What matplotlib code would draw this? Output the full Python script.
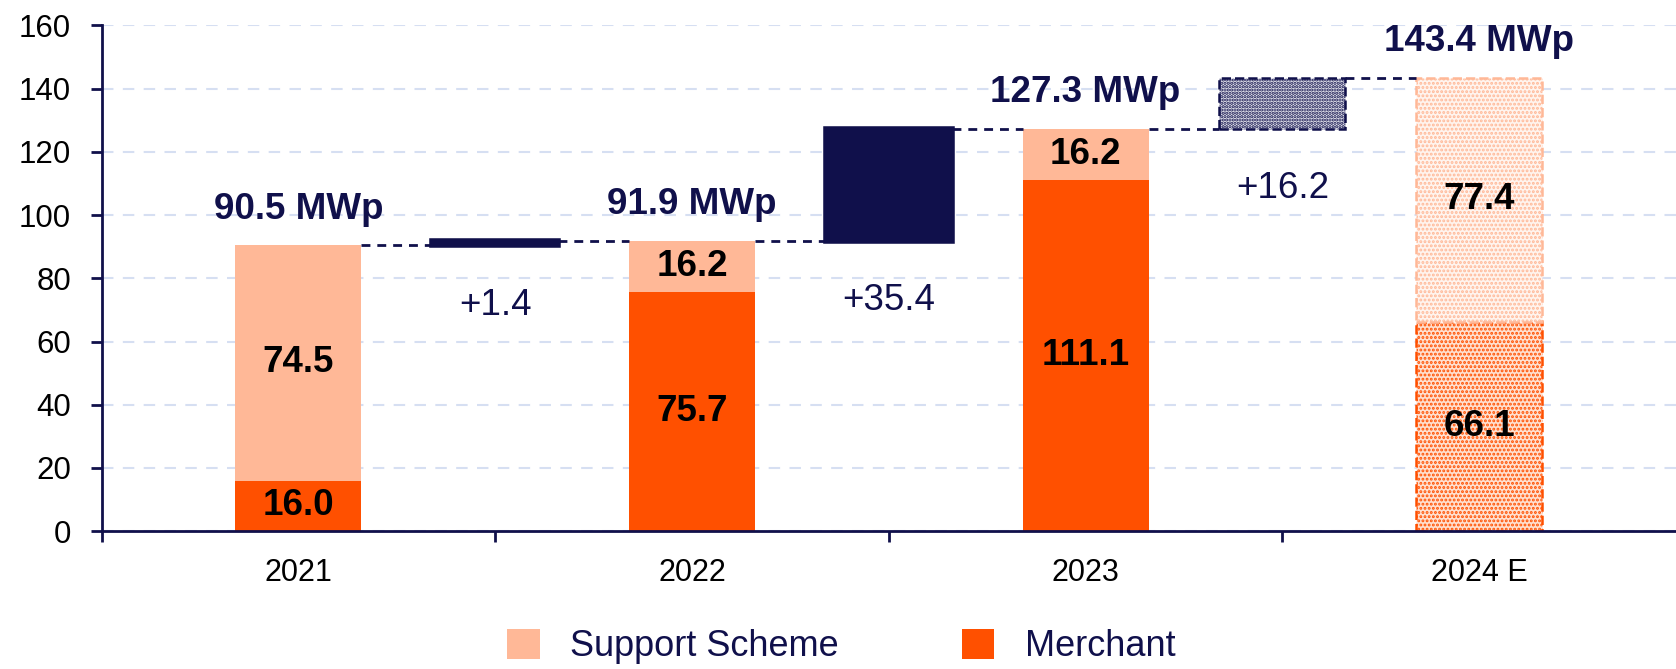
import matplotlib
matplotlib.use("Agg")
import matplotlib.pyplot as plt
from matplotlib.patches import Patch

plt.rcParams['font.family'] = ['Liberation Sans', 'DejaVu Sans']
plt.rcParams['hatch.linewidth'] = 1.2

# data
years = ["2021", "2022", "2023", "2024 E"]
merchant = [16.0, 75.7, 111.1, 66.1]
support = [74.5, 16.2, 16.2, 77.4]
totals = [90.5, 91.9, 127.3, 143.4]
deltas = [1.4, 35.4, 16.2]
total_labels = ["90.5 MWp", "91.9 MWp", "127.3 MWp", "143.4 MWp"]
delta_labels = ["+1.4", "+35.4", "+16.2"]

NAVY = "#10104B"
ORANGE = "#FF5000"
PEACH = "#FFB897"
GRID = "#D6DFF2"
W = 0.32

fig = plt.figure(figsize=(16.76, 6.69), dpi=100)
ax = fig.add_axes([0.0606, 0.206, 0.9394, 0.756])

x = list(range(len(years)))
xd = [i + 0.5 for i in range(len(deltas))]

# stacked bars (last one is an estimate -> dotted / dashed)
for i in x:
    est = years[i].endswith("E")
    if est:
        plt.rcParams['hatch.linewidth'] = 1.4
        ax.bar(i, merchant[i], W, facecolor="#FFE0D0", edgecolor=ORANGE,
               hatch="....", linestyle="--", linewidth=1.8)
        ax.bar(i, support[i], W, bottom=merchant[i], facecolor="#FFF4EE",
               edgecolor=PEACH, hatch="....", linestyle="--", linewidth=1.8)
    else:
        ax.bar(i, merchant[i], W, color=ORANGE)
        ax.bar(i, support[i], W, bottom=merchant[i], color=PEACH)
    ax.text(i, merchant[i] / 2, f"{merchant[i]:.1f}", ha="center", va="center",
            fontsize=26.5, fontweight="bold", color="black")
    ax.text(i, merchant[i] + support[i] / 2, f"{support[i]:.1f}", ha="center",
            va="center", fontsize=26.5, fontweight="bold", color="black")
    ax.annotate(total_labels[i], (i, merchant[i] + support[i]),
                xytext=(0, 19), textcoords="offset points", ha="center",
                va="baseline", fontsize=26.5, fontweight="bold", color=NAVY)

# bridge bars
for j, d in enumerate(deltas):
    base = merchant[j] + support[j]
    top = base + d
    if j == len(deltas) - 1:
        plt.rcParams['hatch.linewidth'] = 1.6
        ax.bar(xd[j], d, W, bottom=base, facecolor="#E8E8F0", edgecolor=NAVY,
               hatch=".....", linestyle="--", linewidth=1.8)
    else:
        ax.bar(xd[j], d, W, bottom=base, color=NAVY, edgecolor=NAVY,
               linewidth=4)
    ax.annotate(delta_labels[j], (xd[j], base), xytext=(0, -50),
                textcoords="offset points", ha="center", va="baseline",
                fontsize=26.5, color=NAVY)
    # connectors
    ax.plot([j + W / 2, xd[j] - W / 2], [base, base], color=NAVY, lw=2,
            dashes=(3.2, 2.5))
    ax.plot([xd[j] + W / 2, j + 1 - W / 2], [top, top], color=NAVY, lw=2,
            dashes=(3.2, 2.5))

ax.set_xlim(-0.5, 3.5)
ax.set_ylim(0, 160)
ax.set_yticks(range(0, 161, 20))
ax.set_xticks([-0.5, 0.5, 1.5, 2.5])
ax.set_xticklabels([])
ax.set_xticks(x, minor=True)
ax.set_xticklabels(years, minor=True)
ax.tick_params(axis="x", which="major", length=8, width=2, color=NAVY,
               direction="out")
ax.tick_params(axis="x", which="minor", length=0, pad=19, labelsize=22,
               labelcolor="black")
ax.tick_params(axis="y", length=8, width=2, color=NAVY, pad=14,
               labelsize=22.5, labelcolor="black")

for s in ["top", "right"]:
    ax.spines[s].set_visible(False)
for s in ["left", "bottom"]:
    ax.spines[s].set_color(NAVY)
    ax.spines[s].set_linewidth(2)

ax.yaxis.grid(True, color=GRID, linestyle=(0, (5.5, 4.5)), linewidth=1.5)
ax.set_axisbelow(True)

handles = [Patch(facecolor=PEACH), Patch(facecolor=ORANGE)]
leg = fig.legend(handles, ["Support Scheme", "Merchant"], loc="center",
                 bbox_to_anchor=(0.502, 0.034), ncol=2, frameon=False,
                 fontsize=26, handlelength=0.9, handleheight=0.9,
                 handletextpad=0.85, columnspacing=3.4)
for t in leg.get_texts():
    t.set_color(NAVY)

fig.savefig("out.png", dpi=100)
